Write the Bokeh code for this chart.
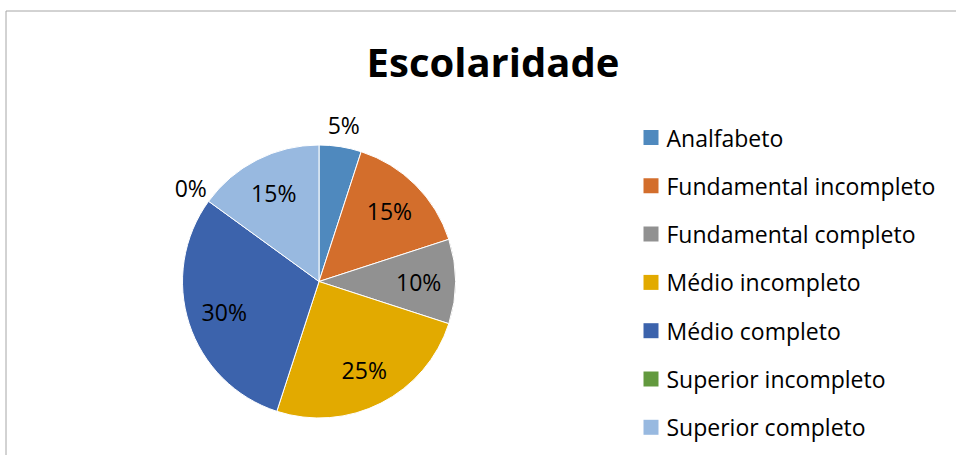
import numpy as np
from bokeh.plotting import figure
from bokeh.models import ColumnDataSource, Range1d
from bokeh.core.properties import value
from bokeh.embed import file_html
from bokeh.resources import INLINE

# ---- data ----
title = "Escolaridade"
categories = ["Analfabeto", "Fundamental incompleto", "Fundamental completo",
              "Médio incompleto", "Médio completo", "Superior incompleto",
              "Superior completo"]
percent = [5, 15, 10, 25, 30, 0, 15]
colors = ["#4F89BE", "#D36E2C", "#919191", "#E2AA00", "#3C63AC", "#62993E", "#98B9E0"]

# ---- layout (pixel space) ----
W, H = 956, 455
FONT = "Open Sans"

p = figure(width=W, height=H, x_range=Range1d(0, W), y_range=Range1d(0, H),
           output_backend="svg", toolbar_location=None, min_border=0,
           x_axis_type=None, y_axis_type=None)
p.grid.visible = False
p.outline_line_color = None
p.background_fill_color = "white"
p.border_fill_color = "white"

# frame border (top and left visible in reference)
p.line(x=[5.5, 5.5, W], y=[0, H - 10.5, H - 10.5], line_color="#a6a6a6", line_width=1)

# pie
cx, cy, r = 318.5, H - 281.0, 136.5
vals = np.array(percent, dtype=float)
frac = vals / vals.sum()
cum_end = np.cumsum(frac)
cum_start = cum_end - frac
start = np.pi / 2 - 2 * np.pi * cum_start
end = np.pi / 2 - 2 * np.pi * cum_end
mask = frac > 0
wsrc = ColumnDataSource(dict(start=start[mask], end=end[mask],
                             color=[c for c, m in zip(colors, mask) if m]))
p.wedge(x=cx, y=cy, radius=r, start_angle="start", end_angle="end",
        direction="clock", fill_color="color", line_color="white",
        line_width=1, source=wsrc)

# data labels
mid = np.pi / 2 - 2 * np.pi * (cum_start + frac / 2)
rad = np.where(vals > 5, 0.73 * r, r + 22)
lsrc = ColumnDataSource(dict(x=cx + rad * np.cos(mid), y=cy + rad * np.sin(mid),
                             t=[f"{v}%" for v in percent]))
p.text(x="x", y="y", text="t", source=lsrc, text_font=value(FONT),
       text_font_size="23px", text_align="center", text_baseline="middle",
       text_color="black")

# legend
n = len(categories)
ly = H - (137 + 48.3 * np.arange(n))
gsrc = ColumnDataSource(dict(x=[650.5] * n, tx=[666] * n, y=ly,
                             color=colors, t=categories))
p.rect(x="x", y="y", width=15, height=15, fill_color="color", line_color=None,
       source=gsrc)
p.text(x="tx", y="y", text="t", source=gsrc, text_font=value(FONT),
       text_font_size="23px", text_align="left", text_baseline="middle",
       text_color="black")

# title
p.text(x=[492.5], y=[H - 61], text=[title], text_font=value(FONT),
       text_font_size="40px", text_font_style="bold", text_align="center",
       text_baseline="middle", text_color="black")

open("out.html", "w").write(file_html(p, INLINE))
